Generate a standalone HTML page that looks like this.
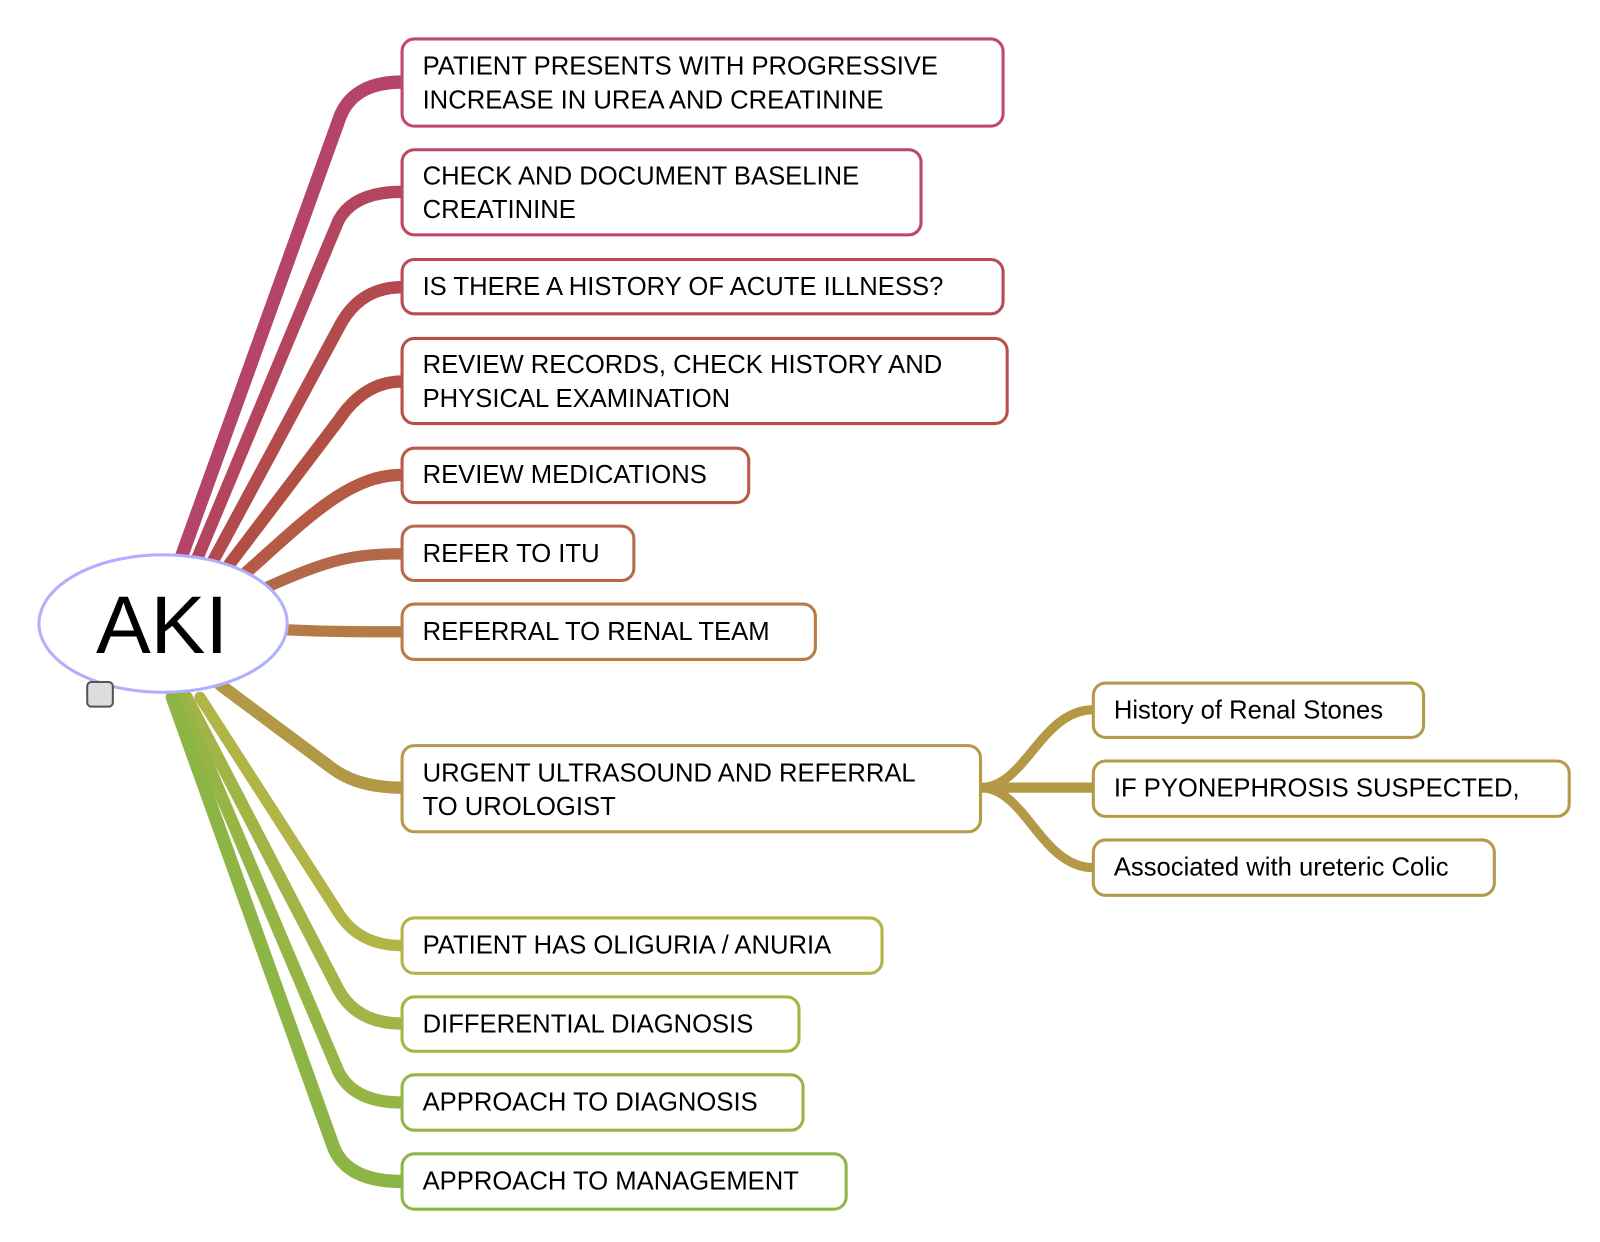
<!DOCTYPE html>
<html><head><meta charset="utf-8"><style>html,body{margin:0;padding:0;background:#fff}svg{display:block}</style></head>
<body>
<svg width="1600" height="1242" viewBox="0 0 1560 1211" xmlns="http://www.w3.org/2000/svg" font-family="Liberation Sans, Arial, sans-serif">
<g fill="none" stroke-linecap="round">
<path d="M175,548 L330,118 Q342,80 392,80" stroke="#b5446a" stroke-width="13"/>
<path d="M190,550 L330,215 Q345,187 392,187" stroke="#b4455e" stroke-width="12"/>
<path d="M205,552 L330,320 Q350,280 392,280" stroke="#b34a4e" stroke-width="12"/>
<path d="M220,555 L330,410 Q355,372 392,372" stroke="#b24f45" stroke-width="12"/>
<path d="M238,560 C300,505 340,463 392,463" stroke="#b45a45" stroke-width="12"/>
<path d="M255,575 C320,545 345,540 392,540" stroke="#b3684a" stroke-width="11"/>
<path d="M278,614 C320,616 350,616 392,616" stroke="#b57a45" stroke-width="11"/>
<path d="M215,668 L325,750 Q350,768 392,768" stroke="#b39845" stroke-width="12"/>
<path d="M195,680 L330,890 Q350,922 392,922" stroke="#b0b545" stroke-width="11"/>
<path d="M182,680 L330,965 Q348,998 392,998" stroke="#a0b545" stroke-width="12"/>
<path d="M175,680 L330,1045 Q345,1075 392,1075" stroke="#96b545" stroke-width="12"/>
<path d="M168,680 L325,1118 Q338,1152 392,1152" stroke="#8db545" stroke-width="13"/>
<path d="M956,768 C1000,768 1015,692 1066,692" stroke="#b39845" stroke-width="9"/>
<path d="M956,768 L1066,768" stroke="#b39845" stroke-width="10"/>
<path d="M956,768 C1000,768 1015,846 1066,846" stroke="#b39845" stroke-width="9"/>
</g>
<g fill="#fff" stroke-width="3">
<rect x="392" y="38" width="586" height="85" rx="12" stroke="#c0486c"/>
<rect x="392" y="146" width="506" height="83" rx="12" stroke="#b94862"/>
<rect x="392" y="253" width="586" height="53" rx="12" stroke="#b94c52"/>
<rect x="392" y="330" width="590" height="83" rx="12" stroke="#b84f48"/>
<rect x="392" y="437" width="338" height="53" rx="12" stroke="#b85c48"/>
<rect x="392" y="513" width="226" height="53" rx="12" stroke="#b8694a"/>
<rect x="392" y="589" width="403" height="54" rx="12" stroke="#b87c48"/>
<rect x="392" y="727" width="564" height="84" rx="12" stroke="#b59a48"/>
<rect x="392" y="895" width="468" height="54" rx="12" stroke="#b2b548"/>
<rect x="392" y="972" width="387" height="53" rx="12" stroke="#a2b548"/>
<rect x="392" y="1048" width="391" height="54" rx="12" stroke="#98b548"/>
<rect x="392" y="1125" width="433" height="54" rx="12" stroke="#8fb548"/>
<rect x="1066" y="666" width="322" height="53" rx="12" stroke="#b59a48"/>
<rect x="1066" y="742" width="464" height="54" rx="12" stroke="#b59a48"/>
<rect x="1066" y="819" width="391" height="54" rx="12" stroke="#b59a48"/>
<ellipse cx="159" cy="608" rx="121" ry="67" stroke="#b0b0ff"/>
</g>
<rect x="85" y="665" width="25" height="24" rx="4" fill="#ddd" stroke="#555" stroke-width="2"/>
<g font-size="25" fill="#000" dominant-baseline="central">
<text x="412" y="65">PATIENT PRESENTS WITH PROGRESSIVE</text>
<text x="412" y="98">INCREASE IN UREA AND CREATININE</text>
<text x="412" y="172">CHECK AND DOCUMENT BASELINE</text>
<text x="412" y="205">CREATININE</text>
<text x="412" y="280">IS THERE A HISTORY OF ACUTE ILLNESS?</text>
<text x="412" y="356">REVIEW RECORDS, CHECK HISTORY AND</text>
<text x="412" y="389">PHYSICAL EXAMINATION</text>
<text x="412" y="463">REVIEW MEDICATIONS</text>
<text x="412" y="540">REFER TO ITU</text>
<text x="412" y="616">REFERRAL TO RENAL TEAM</text>
<text x="412" y="754">URGENT ULTRASOUND AND REFERRAL</text>
<text x="412" y="787">TO UROLOGIST</text>
<text x="412" y="922">PATIENT HAS OLIGURIA / ANURIA</text>
<text x="412" y="999">DIFFERENTIAL DIAGNOSIS</text>
<text x="412" y="1075">APPROACH TO DIAGNOSIS</text>
<text x="412" y="1152">APPROACH TO MANAGEMENT</text>
<text x="1086" y="693">History of Renal Stones</text>
<text x="1086" y="769">IF PYONEPHROSIS SUSPECTED,</text>
<text x="1086" y="846">Associated with ureteric Colic</text>
</g>
<text x="158" y="610" font-size="80" text-anchor="middle" dominant-baseline="central">AKI</text>
</svg>
</body></html>
